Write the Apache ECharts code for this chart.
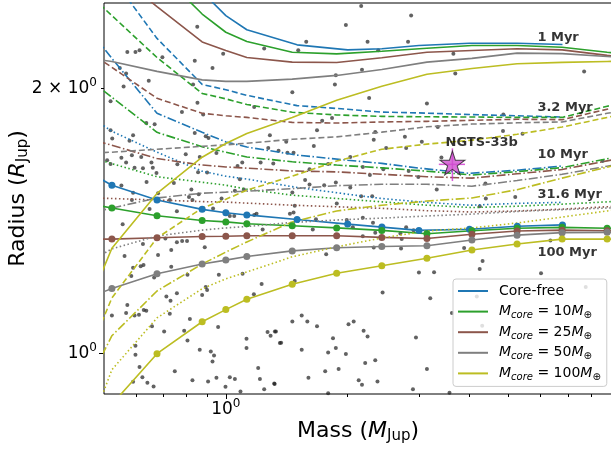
<!DOCTYPE html>
<html><head><meta charset="utf-8">
<script src="https://cdn.jsdelivr.net/npm/echarts@6/dist/echarts.min.js"></script>
<style>html,body{margin:0;padding:0;background:#fff}#c{width:611px;height:450px}</style>
</head><body><div id="c"></div>
<script>
// ---------------- data ----------------
const massGridCoreFree = [0.405, 0.523, 0.676, 0.874, 1.0, 1.127, 1.5, 2.0, 2.43, 3.0, 4.0, 5.25, 6.79];
const massGrid = [0.405, 0.523, 0.676, 0.874, 1.0, 1.127, 1.459, 1.879, 2.429, 3.14, 4.056, 5.244, 6.776, 8.755, 11.3];

const coreFreeR1   = [null, null, null, 2.573, 2.419, 2.331, 2.241, 2.212, 2.218, 2.237, 2.250, 2.250, 2.243];
const coreFreeR3   = [null, 2.675, 2.279, 2.021, 1.993, 1.964, 1.912, 1.894, 1.880, 1.876, 1.868, 1.862, 1.856];
const coreFreeR10  = [2.509, 2.163, 1.874, 1.783, 1.739, 1.716, 1.680, 1.658, 1.644, 1.624, 1.602, 1.615, 1.633];
const coreFreeR32  = [1.934, 1.788, 1.693, 1.611, 1.590, 1.578, 1.544, 1.517, 1.500, 1.487, 1.474, 1.481, 1.485];
const coreFreeR100 = [1.658, 1.553, 1.494, 1.458, 1.445, 1.437, 1.420, 1.403, 1.392, 1.380, 1.384, 1.395, 1.400];

const core10R1   = [null, null, 2.731, 2.429, 2.316, 2.261, 2.198, 2.189, 2.204, 2.221, 2.237, 2.237, 2.227, 2.198, 2.174];
const core10R3   = [2.699, 2.419, 2.168, 1.974, 1.946, 1.918, 1.879, 1.866, 1.859, 1.857, 1.856, 1.854, 1.854, 1.909, 1.954];
const core10R10  = [2.141, 1.954, 1.783, 1.717, 1.693, 1.672, 1.651, 1.637, 1.625, 1.611, 1.595, 1.609, 1.626, 1.664, 1.700];
const core10R32  = [1.702, 1.643, 1.588, 1.565, 1.553, 1.537, 1.513, 1.500, 1.487, 1.474, 1.465, 1.470, 1.478, 1.487, 1.497];
const core10R100 = [1.497, 1.463, 1.434, 1.416, 1.411, 1.404, 1.397, 1.389, 1.380, 1.368, 1.379, 1.388, 1.391, 1.388, 1.385];

const core25R1   = [null, 2.72, 2.477, 2.258, 2.208, 2.168, 2.142, 2.140, 2.167, 2.198, 2.208, 2.218, 2.212, 2.180, 2.160];
const core25R3   = [2.285, 2.113, 1.949, 1.874, 1.862, 1.854, 1.830, 1.827, 1.832, 1.835, 1.840, 1.845, 1.843, 1.894, 1.939];
const core25R10  = [1.779, 1.724, 1.665, 1.637, 1.629, 1.624, 1.612, 1.608, 1.598, 1.588, 1.582, 1.600, 1.618, 1.655, 1.690];
const core25R32  = [1.505, 1.500, 1.494, 1.488, 1.486, 1.482, 1.474, 1.468, 1.462, 1.453, 1.448, 1.452, 1.459, 1.468, 1.478];
const core25R100 = [1.348, 1.349, 1.354, 1.358, 1.359, 1.361, 1.361, 1.361, 1.355, 1.351, 1.366, 1.378, 1.381, 1.379, 1.378];

const core50R1   = [2.180, 2.146, 2.091, 2.045, 2.037, 2.037, 2.049, 2.069, 2.101, 2.142, 2.163, 2.193, 2.190, 2.174, 2.157];
const core50R3   = [1.684, 1.693, 1.706, 1.719, 1.726, 1.733, 1.751, 1.762, 1.784, 1.809, 1.822, 1.828, 1.832, 1.874, 1.910];
const core50R10  = [1.425, 1.463, 1.502, 1.521, 1.525, 1.529, 1.539, 1.551, 1.557, 1.557, 1.549, 1.572, 1.598, 1.632, 1.666];
const core50R32  = [1.229, 1.315, 1.360, 1.381, 1.389, 1.394, 1.409, 1.418, 1.425, 1.433, 1.440, 1.450, 1.457, 1.463, 1.470];
const core50R100 = [1.131, 1.186, 1.232, 1.264, 1.277, 1.289, 1.308, 1.319, 1.323, 1.326, 1.346, 1.363, 1.372, 1.373, 1.374];

const core100R1   = [0.995, 1.317, 1.520, 1.671, 1.732, 1.778, 1.853, 1.939, 2.011, 2.075, 2.107, 2.133, 2.141, 2.146, 2.150];
const core100R3   = [0.873, 1.157, 1.353, 1.463, 1.497, 1.533, 1.590, 1.654, 1.706, 1.729, 1.747, 1.774, 1.808, 1.854, 1.900];
const core100R10  = [0.831, 1.048, 1.178, 1.264, 1.304, 1.339, 1.411, 1.452, 1.474, 1.490, 1.502, 1.535, 1.582, 1.628, 1.675];
const core100R32  = [0.702, 0.959, 1.098, 1.185, 1.216, 1.238, 1.288, 1.322, 1.353, 1.378, 1.389, 1.407, 1.429, 1.452, 1.475];
const core100R100 = [0.769, 0.876, 1.000, 1.087, 1.122, 1.153, 1.199, 1.234, 1.258, 1.283, 1.311, 1.332, 1.349, 1.349, 1.349];

const planetMass = [0.85,0.571,0.598,0.612,0.697,0.838,0.985,1.244,0.927,0.547,0.567,0.645,0.559,0.830,0.519,0.851,2.16,2.87,1.98,1.58,2.24,2.82,1.51,2.38,2.17,1.87,1.86,1.46,2.26,3.65,3.69,7.68,
0.779,1.175,0.879,0.636,0.667,0.519,0.590,0.838,0.892,0.906,1.285,0.524,0.578,0.948,0.796,0.862,1.273,0.552,0.586,0.618,0.567,0.655,0.509,0.519,0.759,1.069,1.098,1.219,1.310,0.595,0.624,0.660,0.674,0.854,0.899,0.637,0.744,1.083,0.552,0.590,0.680,0.822,0.857,1.053,1.108,0.976,0.811,0.727,0.827,
0.586,0.648,0.757,0.930,0.556,1.023,1.049,1.175,1.191,1.233,0.757,0.780,0.802,0.624,0.709,0.887,0.733,0.562,0.680,0.590,0.616,0.626,0.733,0.584,0.665,0.804,0.961,0.892,0.899,0.757,0.713,0.874,0.730,1.226,1.173,1.100,0.523,0.571,0.567,0.595,0.610,0.627,0.636,0.657,0.704,0.727,0.815,0.789,0.804,0.957,0.862,0.918,0.935,0.927,1.125,1.125,1.268,1.322,1.290,0.598,0.598,0.612,0.622,0.590,0.640,0.663,0.748,0.827,0.904,0.948,1.023,1.053,0.998,1.087,1.202,1.214,1.244,1.317,1.360,
3.14,1.83,1.73,1.68,2.34,2.77,3.34,1.41,1.65,2.32,2.49,2.79,3.05,1.35,1.42,1.47,2.03,3.41,1.79,1.61,2.18,2.45,2.83,2.27,2.99,1.57,1.61,1.75,1.87,2.03,2.16,2.30,3.32,1.46,
1.48,1.88,1.44,1.47,1.67,1.99,2.18,2.31,2.06,1.64,2.79,2.70,2.91,2.18,2.72,1.77,2.32,2.71,1.48,3.00,3.27,2.44,3.20,1.54,1.46,1.59,1.68,1.33,2.01,2.07,2.19,2.24,1.37,1.84,1.87,1.54,1.79,1.98,2.95,3.14,2.21,2.34,1.76,1.90,1.60,2.13,2.17,2.37,1.32,1.79,2.90,2.34,
4.85,4.84,5.41,8.53,4.38,4.39,5.19,4.24,6.34,3.88,4.31,4.24,6.01,7.75,4.17,4.30,3.62,3.57];
const planetRadius = [2.35,2.20,2.20,2.21,2.17,2.15,2.19,2.22,2.11,2.11,2.08,2.04,2.01,2.02,1.934,1.927,2.48,2.42,2.36,2.26,2.26,2.26,2.21,2.21,2.10,2.07,2.02,1.98,1.95,2.19,2.08,2.09,
1.880,1.905,1.868,1.827,1.821,1.793,1.769,1.780,1.765,1.757,1.769,1.755,1.744,1.689,1.684,1.672,1.712,1.668,1.680,1.672,1.648,1.648,1.658,1.641,1.640,1.633,1.648,1.648,1.644,1.625,1.623,1.625,1.603,1.607,1.605,1.566,1.562,1.577,1.552,1.523,1.521,1.536,1.517,1.531,1.536,1.500,1.506,1.494,1.494,
1.494,1.459,1.451,1.461,1.402,1.433,1.433,1.437,1.441,1.383,1.338,1.342,1.342,1.332,1.351,1.321,1.311,1.291,1.294,1.252,1.257,1.261,1.255,1.225,1.220,1.229,1.229,1.190,1.181,1.171,1.161,1.166,1.148,1.200,1.168,1.232,1.105,1.136,1.112,1.105,1.107,1.121,1.119,1.074,1.060,1.110,1.095,1.062,1.035,1.072,1.010,1.006,0.995,0.980,1.040,1.015,1.058,1.060,1.048,1.021,0.997,0.966,0.940,0.929,0.927,0.918,0.955,0.933,0.930,0.939,0.940,0.936,0.917,0.906,0.963,0.936,0.911,0.925,1.028,
1.923,1.851,1.838,1.793,1.785,1.763,1.808,1.740,1.721,1.749,1.712,1.712,1.740,1.699,1.690,1.690,1.672,1.670,1.641,1.619,1.629,1.619,1.612,1.595,1.587,1.574,1.556,1.553,1.564,1.544,1.509,1.509,1.536,1.524,
1.472,1.481,1.441,1.446,1.421,1.418,1.426,1.408,1.391,1.383,1.391,1.369,1.381,1.359,1.349,1.297,1.320,1.316,1.209,1.236,1.237,1.173,1.156,1.105,1.088,1.088,1.074,1.060,1.080,1.088,1.062,1.046,1.029,1.041,1.015,1.010,1.003,0.999,1.043,0.961,0.976,0.983,0.955,0.961,0.939,0.933,0.922,0.930,0.924,0.902,0.911,1.372,
1.868,1.789,1.777,1.654,1.560,1.500,1.506,1.470,1.344,1.318,1.274,1.248,1.234,1.190,1.161,1.076,1.112,0.903];

const ngtsName = 'NGTS-33b';
const ngtsMass = 3.63, ngtsMassErr = 0.27;
const ngtsRadius = 1.64, ngtsRadiusErr = 0.07;
const ngtsLabelMass = 3.48, ngtsLabelRadius = 1.735;

const ageLabels = ['1 Myr', '3.2 Myr', '10 Myr', '31.6 Myr', '100 Myr'];
const ageLabelMass = [5.87, 5.87, 5.87, 5.87, 5.87];
const ageLabelRadius = [2.283, 1.902, 1.684, 1.517, 1.302];

const legendNames = ['Core-free', 'Mcore10', 'Mcore25', 'Mcore50', 'Mcore100'];
const coreMassValues = [null, 10, 25, 50, 100];

const xMajorTicks = [1];
const xMinorTicks = [0.6, 0.7, 0.8, 0.9, 2, 3, 4, 5, 6, 7, 8, 9];
const yMajorTicks = [1];
const yMinorTicks = [2];
const yLabelTicks = [1, 2];
const xRange = [0.5, 9];
const yRange = [0.9, 2.5];

// ---------------- styling ----------------
const FONT = "'DejaVu Sans', sans-serif";
const coreColors = ['#1f77b4', '#2ca02c', '#8c564b', '#7f7f7f', '#bcbd22'];
const ageLineTypes = ['solid', [6, 3], [9, 2.5, 1.5, 2.5], [1.5, 2.5], 'solid'];
const coreMassGrids = [massGridCoreFree, massGrid, massGrid, massGrid, massGrid];
const coreRadii = [
  [coreFreeR1, coreFreeR3, coreFreeR10, coreFreeR32, coreFreeR100],
  [core10R1, core10R3, core10R10, core10R32, core10R100],
  [core25R1, core25R3, core25R10, core25R32, core25R100],
  [core50R1, core50R3, core50R10, core50R32, core50R100],
  [core100R1, core100R3, core100R10, core100R32, core100R100]
];
const lg = v => Math.log10(v);

function tickLabel(v) {
  const val = Math.pow(10, v);
  const e = Math.floor(Math.log10(val) + 1e-9);
  const mant = Math.round(val / Math.pow(10, e));
  return (mant === 1 ? '' : mant + ' × ') + '10{sup|' + e + '}';
}
const tickRich = { sup: { fontSize: 12, lineHeight: 12, verticalAlign: 'top', padding: [2, 0, 0, 0], fontFamily: FONT, color: '#000' } };
const nameRich = {
  it: { fontSize: 22, lineHeight: 26, fontStyle: 'italic', fontFamily: FONT, color: '#000' },
  sub: { fontSize: 15, lineHeight: 15, verticalAlign: 'top', padding: [11, 0, 0, 0], fontFamily: FONT, color: '#000' }
};

const series = [];
series.push({
  type: 'scatter', xAxisIndex: 0, yAxisIndex: 0, z: 1, silent: true,
  symbolSize: 4, itemStyle: { color: 'rgba(25,25,25,0.85)' },
  data: planetMass.map((m, i) => [m, planetRadius[i]])
});
coreRadii.forEach((ages, c) => {
  ages.forEach((radii, a) => {
    const grid = coreMassGrids[c];
    series.push({
      type: 'line', name: legendNames[c], xAxisIndex: 0, yAxisIndex: 0, z: 2, silent: true,
      clip: true,
      symbol: a === 4 ? 'circle' : 'none', symbolSize: 7, showSymbol: a === 4,
      lineStyle: { color: coreColors[c], width: 1.6, type: ageLineTypes[a] },
      itemStyle: { color: coreColors[c] },
      data: grid.map((m, i) => [m, radii[i]]).filter(d => d[1] != null)
    });
  });
});
series.push({
  type: 'custom', xAxisIndex: 0, yAxisIndex: 0, z: 3, silent: true,
  data: [[ngtsMass, ngtsRadius, ngtsMassErr, ngtsRadiusErr]],
  renderItem: (params, api) => {
    const m = api.value(0), r = api.value(1), em = api.value(2), er = api.value(3);
    const a = api.coord([m - em, r]), b = api.coord([m + em, r]);
    const c = api.coord([m, r - er]), d = api.coord([m, r + er]);
    const st = { stroke: 'rgba(205,40,205,0.75)', lineWidth: 1.5 };
    return { type: 'group', children: [
      { type: 'line', shape: { x1: a[0], y1: a[1], x2: b[0], y2: b[1] }, style: st },
      { type: 'line', shape: { x1: c[0], y1: c[1], x2: d[0], y2: d[1] }, style: st }
    ]};
  }
});
series.push({
  type: 'scatter', xAxisIndex: 0, yAxisIndex: 0, z: 4, silent: true,
  symbol: 'path://M0,-1 L0.2245,-0.309 L0.951,-0.309 L0.363,0.118 L0.588,0.809 L0,0.382 L-0.588,0.809 L-0.363,0.118 L-0.951,-0.309 L-0.2245,-0.309 Z',
  symbolSize: [25, 24], symbolOffset: [0, -1.3],
  itemStyle: { color: '#d04dd0', borderColor: '#222', borderWidth: 1 },
  data: [[ngtsMass, ngtsRadius]]
});
const labelStyle = { show: true, position: 'right', distance: 0, formatter: '{b}', fontFamily: FONT, fontWeight: 'bold', fontSize: 13, color: '#000' };
series.push({
  type: 'scatter', xAxisIndex: 0, yAxisIndex: 0, z: 5, silent: true,
  symbolSize: 1, itemStyle: { color: 'rgba(0,0,0,0)' }, label: labelStyle,
  data: ageLabels.map((t, i) => ({ name: t, value: [ageLabelMass[i], ageLabelRadius[i]] }))
    .concat([{ name: ngtsName, value: [ngtsLabelMass, ngtsLabelRadius] }])
});

const gridBox = { left: 104, right: -1, top: 3, bottom: 56, outerBoundsMode: 'none', containLabel: false };
const noLine = { show: false, onZero: false };

const option = {
  animation: false,
  backgroundColor: '#fff',
  grid: [
    Object.assign({ show: true, borderColor: '#000', borderWidth: 1, backgroundColor: 'transparent' }, gridBox),
    Object.assign({ show: false }, gridBox)
  ],
  xAxis: [
    { type: 'log', logBase: 10, min: xRange[0], max: xRange[1], gridIndex: 0, position: 'top', show: false, axisLine: noLine },
    { type: 'value', gridIndex: 0, position: 'bottom', min: lg(xRange[0]), max: lg(xRange[1]),
      axisLine: noLine, splitLine: { show: false },
      axisTick: { show: true, customValues: xMajorTicks.map(lg), length: 5, lineStyle: { color: '#000', width: 1 } },
      axisLabel: { show: true, customValues: xMajorTicks.map(lg), formatter: tickLabel, margin: 2,
        fontSize: 17, lineHeight: 28, fontFamily: FONT, color: '#000', rich: tickRich },
      name: 'Mass ({it|M}{sub|Jup})', nameLocation: 'middle', nameGap: 24, nameMoveOverlap: false,
      nameTextStyle: { fontSize: 22, lineHeight: 26, fontFamily: FONT, color: '#000', rich: nameRich } },
    { type: 'value', gridIndex: 1, position: 'bottom', min: lg(xRange[0]), max: lg(xRange[1]),
      axisLine: noLine, splitLine: { show: false }, axisLabel: { show: false },
      axisTick: { show: true, customValues: xMinorTicks.map(lg), length: 3, lineStyle: { color: '#000', width: 1 } } }
  ],
  yAxis: [
    { type: 'log', logBase: 10, min: yRange[0], max: yRange[1], gridIndex: 0, position: 'right', show: false, axisLine: noLine },
    { type: 'value', gridIndex: 0, position: 'left', min: lg(yRange[0]), max: lg(yRange[1]),
      axisLine: noLine, splitLine: { show: false },
      axisTick: { show: true, customValues: yMajorTicks.map(lg), length: 5, lineStyle: { color: '#000', width: 1 } },
      axisLabel: { show: true, customValues: yLabelTicks.map(lg), formatter: tickLabel, margin: 7,
        fontSize: 17, lineHeight: 28, fontFamily: FONT, color: '#000', rich: tickRich },
      name: 'Radius ({it|R}{sub|Jup})', nameLocation: 'middle', nameGap: 73, nameRotate: 90, nameMoveOverlap: false,
      nameTextStyle: { fontSize: 22, lineHeight: 26, fontFamily: FONT, color: '#000', rich: nameRich } },
    { type: 'value', gridIndex: 1, position: 'left', min: lg(yRange[0]), max: lg(yRange[1]),
      axisLine: noLine, splitLine: { show: false }, axisLabel: { show: false },
      axisTick: { show: true, customValues: yMinorTicks.map(lg), length: 3, lineStyle: { color: '#000', width: 1 } } }
  ],
  legend: {
    orient: 'vertical', left: 453, top: 279,
    padding: [3, 6, 4, 5],
    itemWidth: 30, itemHeight: 2, itemGap: 2.6,
    selectedMode: false,
    backgroundColor: 'rgba(255,255,255,0.8)', borderColor: '#cccccc', borderWidth: 1, borderRadius: 3,
    data: legendNames.map(n => ({ name: n, icon: 'rect' })),
    textStyle: {
      fontFamily: FONT, fontSize: 14, lineHeight: 18, color: '#000',
      rich: {
        pad: { width: 6 },
        it: { fontFamily: FONT, fontSize: 14, lineHeight: 18, fontStyle: 'italic', color: '#000' },
        sub: { fontFamily: FONT, fontSize: 10, lineHeight: 10, fontStyle: 'italic', verticalAlign: 'top', padding: [8, 0, 0, 0], color: '#000' },
        sym: { fontFamily: FONT, fontSize: 10, lineHeight: 10, verticalAlign: 'top', padding: [8, 0, 0, 0], color: '#000' },
        txt: { fontFamily: FONT, fontSize: 14, lineHeight: 18, color: '#000' }
      }
    },
    formatter: name => {
      const i = legendNames.indexOf(name);
      if (coreMassValues[i] == null) return '{pad| }{txt|' + name + '}';
      return '{pad| }{it|M}{sub|core}{txt| = ' + coreMassValues[i] + '}{it|M}{sym|⊕}';
    }
  },
  series: series
};

const chart = echarts.init(document.getElementById('c'), null, { renderer: 'canvas' });
chart.setOption(option);
</script>
</body></html>
